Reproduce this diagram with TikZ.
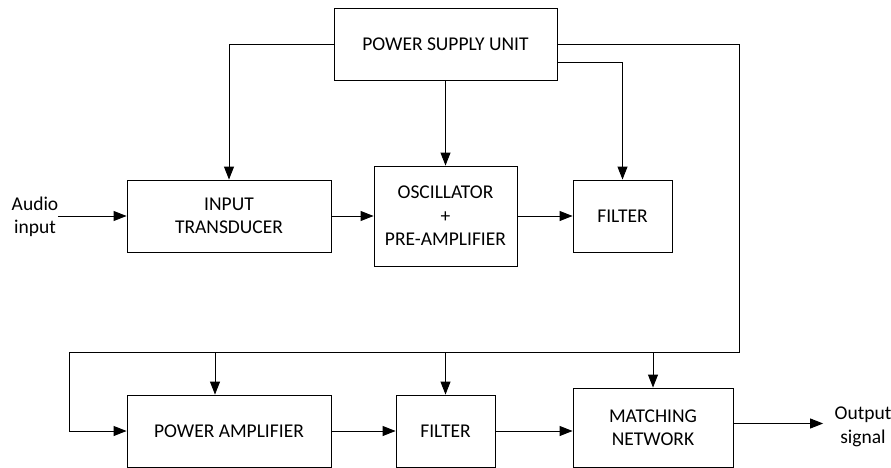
\documentclass[tikz,border=0pt]{standalone}
\usepackage{fontspec}
\setmainfont{Carlito}
\usetikzlibrary{arrows.meta}

\begin{document}
\begin{tikzpicture}[x=1pt,y=-1pt,
    block/.style={draw,line width=0.9pt,inner sep=0pt,align=center,font=\fontsize{19.5}{23.5}\selectfont},
    lbl/.style={align=center,font=\fontsize{19.5}{23.5}\selectfont},
    wire/.style={line width=0.9pt},
    arr/.style={wire,-{Triangle[length=13pt,width=10pt]}}]
    \useasboundingbox (0,0) rectangle (891,468);
    \node[block,minimum width=223pt,minimum height=72pt] (psu) at (445.5,44) {POWER SUPPLY UNIT};
    \node[block,minimum width=204pt,minimum height=72pt] (trans) at (229,216) {INPUT\\TRANSDUCER};
    \node[block,minimum width=143pt,minimum height=100pt] (osc) at (445.5,216) {OSCILLATOR\\+\\PRE-AMPLIFIER};
    \node[block,minimum width=99pt,minimum height=72pt] (filt1) at (622.5,216) {FILTER};
    \node[block,minimum width=204pt,minimum height=72pt] (pamp) at (229,431) {POWER AMPLIFIER};
    \node[block,minimum width=99pt,minimum height=72pt] (filt2) at (445.5,431) {FILTER};
    \node[block,minimum width=160pt,minimum height=79pt] (match) at (653,427.5) {MATCHING\\NETWORK};
    \node[lbl] (audio) at (35,217) {Audio\\input};
    \node[lbl] (out) at (863,427) {Output\\signal};
    % supply lines
    \draw[arr] (psu.west) -| (trans.north);
    \draw[arr] (psu.south) -- (osc.north);
    \draw[arr] ([yshift=-18pt]psu.east) -| (filt1.north);
    \coordinate (busR) at (739,352);
    \coordinate (busL) at (69,352);
    \draw[arr] (psu.east) -| (busR) -- (busL) |- (pamp.west);
    \coordinate (tap1) at (215,352);
    \coordinate (tap2) at (filt2.north |- busL);
    \coordinate (tap3) at (match.north |- busL);
    \draw[arr] (tap1) -- (tap1 |- pamp.north);
    \draw[arr] (tap2) -- (filt2.north);
    \draw[arr] (tap3) -- (match.north);
    % signal path
    \draw[arr] (audio.east |- trans.west) ++(-4,0) -- (trans.west);
    \draw[arr] (trans.east) -- (osc.west);
    \draw[arr] (osc.east) -- (filt1.west);
    \draw[arr] (pamp.east) -- (filt2.west);
    \draw[arr] (filt2.east) -- (filt2.east -| match.west);
    \draw[arr] ([yshift=4pt]match.east) -- ([yshift=4pt,xshift=-8pt]match.east -| out.west);
\end{tikzpicture}
\end{document}
